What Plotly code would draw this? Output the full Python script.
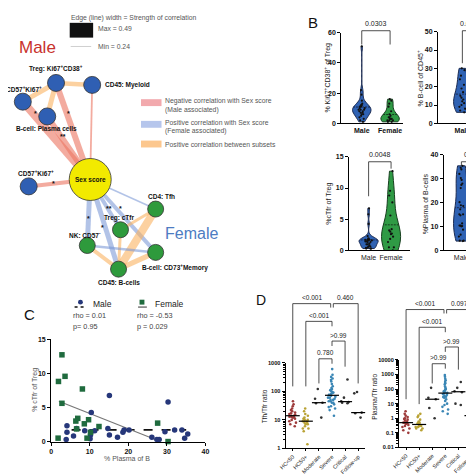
import numpy as np
import plotly.graph_objects as go

W = H = 474
FONT = "Liberation Sans, Arial, sans-serif"

# ---------------- data ----------------
# Panel B (top): Ki67+CD38+ of Treg, B-cell of CD45+
ki67_male = [51, 22, 19, 15, 13, 12, 12, 11, 11, 10, 10, 9, 9, 9, 8, 8, 7, 7, 6, 6, 5, 4, 3, 2, 1]
ki67_female = [16, 15, 13, 11, 8, 6, 5, 4, 4, 3, 3, 3, 2, 2, 2, 1, 1]
bcell_male = [30, 29, 26, 24, 21, 19, 17, 15, 14, 13, 12, 11, 10, 9, 8, 7, 6]
bcell_female = [35, 34, 33, 32, 30, 22, 21, 20, 20, 19, 19, 18, 17, 16, 15, 14]

# Panel C (and B bottom): % Plasma of B vs % cTfr of Treg
male_plasma = [4.1, 4.1, 3.9, 5.8, 6.6, 8.7, 10.4, 10.4, 10.2, 11.3, 15.1, 14.7, 15.1, 17.2,
               18.6, 18.9, 20.2, 26.1, 27.4, 28.0, 29.5, 30.3, 32.0, 33.9, 34.6, 35.4, 10.1]
male_ctfr = [2.3, 1.35, 0.3, 0.8, 1.9, 1.6, 4.25, 1.45, 0.97, 1.6, 6.75, 1.9, 0.97, 0.63,
             1.35, 1.7, 1.7, 0.63, 0.3, 0.3, 1.45, 5.8, 1.7, 1.7, 0.5, 1.1, 0.4]
female_plasma = [2.8, 1.9, 3.6, 2.8, 8.1, 1.8, 6.4, 6.9, 6.6, 8.6, 9.7, 9.3, 10.2, 12.4, 27.6, 30.3]
female_ctfr = [12.7, 8.8, 9.55, 5.6, 7.7, 0.5, 3.0, 3.4, 1.85, 2.6, 3.2, 0.5, 1.35, 2.2, 2.7, 0.0]
male_fit_x = [5.3, 35.0]
male_fit_y = [1.7, 1.7]
female_fit_x = [2.0, 27.0]
female_fit_y = [5.9, 0.3]

# Panel D
groups = ["HC&lt;50", "HC50+", "Moderate", "Severe", "Critical", "Follow-up"]
tfh_hc_lt50 = [45, 35, 30, 25, 22, 20, 18, 17, 16, 15, 14, 14, 13, 13, 12, 12, 11, 10, 9, 8, 7, 6]
tfh_hc_50p = [25, 20, 16, 14, 12, 11, 10, 10, 9, 9, 8, 8, 7, 7, 6, 5, 5, 4, 1.4]
tfh_moderate = [120, 55, 40, 38, 12]
tfh_severe = [600, 380, 320, 280, 250, 220, 180, 150, 130, 120, 110, 100, 95, 90, 85, 80, 75, 70,
              65, 60, 60, 55, 50, 50, 45, 45, 40, 40, 35, 30, 28, 25, 22, 14]
tfh_critical = [260, 60, 45, 42, 40, 38]
tfh_followup = [95, 85, 18, 17, 12]
pl_hc_lt50 = [3, 2, 1.5, 1.2, 1, 0.9, 0.8, 0.7, 0.6, 0.5, 0.5, 0.45, 0.4, 0.35, 0.3, 0.25, 0.2, 0.15, 0.1]
pl_hc_50p = [2, 1.5, 1.2, 0.8, 0.6, 0.5, 0.45, 0.4, 0.35, 0.3, 0.3, 0.25, 0.25, 0.2, 0.2, 0.15]
pl_moderate = [120, 25, 20, 5, 1]
pl_severe = [900, 700, 500, 400, 300, 250, 200, 150, 120, 100, 90, 80, 70, 60, 55, 50, 45, 40, 35,
             30, 28, 25, 20, 15, 10, 8, 6, 4, 3, 2]
pl_critical = [300, 120, 70, 60, 10, 8]
pl_followup = [15, 12, 1.5, 1.0, 0.4]
group_colors = ["#9e3b3b", "#b9a233", "#333333", "#3a86b5", "#333333", "#333333"]

# Panel A network
node_pos = {
    "Treg_k": (42, 72), "Myeloid": (79, 74), "CD57_top": (8, 91), "Plasma": (33, 106),
    "Sex": (77, 170), "CD57_bot": (14, 177), "Tfh": (144, 200), "cTfr": (108, 221),
    "NK": (74, 237), "Memory": (144, 244), "Bcells": (106, 261),
}
male_nodes = ["Treg_k", "Myeloid", "CD57_top", "Plasma", "CD57_bot"]
female_nodes = ["Tfh", "cTfr", "NK", "Memory", "Bcells"]
edges = [
    ("Sex", "CD57_top", "neg", 8), ("Sex", "Treg_k", "neg", 6), ("Sex", "Plasma", "neg", 6),
    ("Sex", "Myeloid", "neg", 1.8), ("Sex", "CD57_bot", "neg", 4),
    ("Treg_k", "CD57_top", "sub", 5), ("Treg_k", "Myeloid", "sub", 4.5), ("Treg_k", "Plasma", "sub", 5),
    ("Sex", "Tfh", "pos", 1.5), ("Sex", "cTfr", "pos", 4), ("Sex", "NK", "pos", 5),
    ("Sex", "Memory", "pos", 4), ("Sex", "Bcells", "pos", 5),
    ("Tfh", "Bcells", "sub", 8), ("Tfh", "cTfr", "sub", 3), ("cTfr", "Bcells", "sub", 3),
    ("NK", "Bcells", "sub", 4), ("Memory", "Bcells", "sub", 5), ("NK", "Memory", "pos", 2.5),
]
edge_colors = {"neg": "rgba(236,120,100,0.62)", "pos": "rgba(115,145,212,0.55)", "sub": "rgba(250,178,96,0.6)"}

fig = go.Figure()

# ---------------- network ----------------
for a, b, kind, w in edges:
    fig.add_trace(go.Scatter(x=[node_pos[a][0], node_pos[b][0]], y=[node_pos[a][1], node_pos[b][1]],
                             mode="lines", line=dict(color=edge_colors[kind], width=w),
                             xaxis="x", yaxis="y", hoverinfo="skip"))
for names, col, size in [(male_nodes, "#2f5fb3", 17), (female_nodes, "#2e9a3c", 16), (["Sex"], "#f2ea00", 42)]:
    fig.add_trace(go.Scatter(x=[node_pos[n][0] for n in names], y=[node_pos[n][1] for n in names],
                             mode="markers", cliponaxis=False,
                             marker=dict(color=col, size=size, line=dict(color="#333333", width=0.8)),
                             xaxis="x", yaxis="y", hoverinfo="skip"))

# ---------------- Panel B violins ----------------
def violin(xpos, vals, fill, line, axis, width):
    return go.Violin(x=[xpos] * len(vals), y=vals, fillcolor=fill, line=dict(color=line, width=1),
                     points="all", pointpos=0, jitter=0.4, spanmode="hard", width=width,
                     meanline_visible=True, opacity=1,
                     marker=dict(color="#111111", size=2.2), xaxis="x" + axis, yaxis="y" + axis,
                     hoverinfo="skip")

MB, FB, MLINE, FLINE = "#2f62b3", "#2f9a45", "#1b2a50", "#173f1f"
fig.add_trace(violin(0, ki67_male, MB, MLINE, "2", 0.65))
fig.add_trace(violin(1, ki67_female, FB, FLINE, "2", 0.65))
fig.add_trace(violin(0, bcell_male, MB, MLINE, "3", 0.62))
fig.add_trace(violin(1, bcell_female, FB, FLINE, "3", 0.62))
fig.add_trace(violin(0, male_ctfr, MB, MLINE, "4", 0.85))
fig.add_trace(violin(1, female_ctfr, FB, FLINE, "4", 0.85))
fig.add_trace(violin(0, male_plasma, MB, MLINE, "5", 0.7))
fig.add_trace(violin(1, female_plasma, FB, FLINE, "5", 0.7))

# ---------------- Panel C scatter ----------------
fig.add_trace(go.Scatter(x=male_fit_x, y=male_fit_y, mode="lines", line=dict(color="#111", width=1.8, dash="dash"),
                         xaxis="x6", yaxis="y6", hoverinfo="skip"))
fig.add_trace(go.Scatter(x=female_fit_x, y=female_fit_y, mode="lines", line=dict(color="#777", width=1.2),
                         xaxis="x6", yaxis="y6", hoverinfo="skip"))
fig.add_trace(go.Scatter(x=male_plasma, y=male_ctfr, mode="markers", cliponaxis=False,
                         marker=dict(color="#26377a", size=5.5, symbol="circle"), xaxis="x6", yaxis="y6"))
fig.add_trace(go.Scatter(x=female_plasma, y=female_ctfr, mode="markers", cliponaxis=False,
                         marker=dict(color="#1f6b3e", size=5.5, symbol="square"), xaxis="x6", yaxis="y6"))

# ---------------- Panel D ----------------
tfh_sets = [tfh_hc_lt50, tfh_hc_50p, tfh_moderate, tfh_severe, tfh_critical, tfh_followup]
pl_sets = [pl_hc_lt50, pl_hc_50p, pl_moderate, pl_severe, pl_critical, pl_followup]
for axis, sets in [("7", tfh_sets), ("8", pl_sets)]:
    for i, vals in enumerate(sets):
        fig.add_trace(go.Box(x=[i] * len(vals), y=vals, boxpoints="all", jitter=1, pointpos=0, width=0.7,
                             fillcolor="rgba(0,0,0,0)", line=dict(color="rgba(0,0,0,0)", width=0),
                             whiskerwidth=0, marker=dict(color=group_colors[i], size=2.6),
                             xaxis="x" + axis, yaxis="y" + axis, hoverinfo="skip"))
    fig.add_trace(go.Scatter(x=list(range(len(sets))), y=[float(np.median(v)) for v in sets], mode="markers",
                             cliponaxis=False,
                             marker=dict(symbol="line-ew", size=10, line=dict(color="black", width=1.2)),
                             xaxis="x" + axis, yaxis="y" + axis, hoverinfo="skip"))

# ---------------- layout ----------------
def dx(a, b):
    return [a / W, b / W]

def dy(top, bot):
    return [1 - bot / H, 1 - top / H]

AX = dict(showline=True, linecolor="black", linewidth=1, ticks="outside", ticklen=3, tickwidth=1,
          tickcolor="black", showgrid=False, zeroline=False, fixedrange=True)
BOLD = dict(size=7, family=FONT, color="#111", weight="bold")
REG = dict(size=7, family=FONT, color="#222")

layout = dict(
    width=W, height=H, margin=dict(l=0, r=0, t=0, b=0), paper_bgcolor="white", plot_bgcolor="rgba(0,0,0,0)",
    showlegend=False, font=dict(family=FONT, size=7, color="black"),
    xaxis=dict(domain=dx(0, 300), range=[0, 300], visible=False, fixedrange=True),
    yaxis=dict(domain=dy(0, 285), range=[285, 0], visible=False, fixedrange=True),
)

def cat_x(dom, rng, labels, font, anchor):
    return dict(AX, domain=dx(*dom), range=rng, tickvals=list(range(len(labels))), ticktext=labels,
                tickfont=font, ticks="", anchor=anchor)

layout["xaxis2"] = cat_x((334, 397), [-0.724, 1.448], ["Male", "Female"], BOLD, "y2")
layout["yaxis2"] = dict(AX, domain=dy(21, 113), range=[0, 60], tickvals=[0, 20, 40, 60], tickfont=BOLD, anchor="x2")
layout["xaxis3"] = cat_x((433, 474), [-0.862, 0.552], ["Male", "Female"], BOLD, "y3")
layout["yaxis3"] = dict(AX, domain=dy(20, 113), range=[0, 50], tickvals=[0, 10, 20, 30, 40, 50], tickfont=BOLD, anchor="x3")
layout["xaxis4"] = cat_x((342, 404), [-0.87, 1.826], ["Male", "Female"], REG, "y4")
layout["yaxis4"] = dict(AX, domain=dy(147, 242), range=[0, 15], tickvals=[0, 5, 10, 15], tickfont=BOLD, anchor="x4")
layout["xaxis5"] = cat_x((439, 474), [-0.783, 0.739], ["Male", "Female"], REG, "y5")
layout["yaxis5"] = dict(AX, domain=dy(145, 242), range=[0, 40], tickvals=[0, 10, 20, 30, 40], tickfont=BOLD, anchor="x5")
layout["xaxis6"] = dict(AX, domain=dx(37, 195), range=[0, 40], tickvals=[0, 10, 20, 30, 40], tickfont=BOLD, anchor="y6")
layout["yaxis6"] = dict(AX, domain=dy(332, 436), range=[0, 15], tickvals=[0, 5, 10, 15], tickfont=BOLD, anchor="x6")
for axis, xd, yd, rng, tv in [("7", (277, 358), (356, 443), [0, 3], [1, 10, 100, 1000]),
                               ("8", (393, 474), (353, 442), [-2, 4], [0.01, 0.1, 1, 10, 100, 1000, 10000])]:
    layout["xaxis" + axis] = dict(AX, domain=dx(*xd), range=[-0.55, 5.5], tickvals=list(range(6)), ticktext=groups,
                                  tickangle=-45, ticklen=2, tickfont=dict(size=5.6, family=FONT, color="#222"),
                                  anchor="y" + axis)
    layout["yaxis" + axis] = dict(AX, domain=dy(*yd), type="log", range=rng, tickvals=tv,
                                  ticktext=[("%g" % v) for v in tv],
                                  tickfont=dict(size=5.6, family=FONT, color="#111", weight="bold"),
                                  anchor="x" + axis,
                                  minor=dict(ticks="outside", ticklen=1.5, tickcolor="black", dtick="D1", showgrid=False))

# ---------------- annotations & shapes ----------------
ann = []
shapes = []

def T(x, y, text, size=7, color="#111", xanchor="center", angle=0, bold=False):
    ann.append(dict(x=x / W, y=1 - y / H, xref="paper", yref="paper", text=text,
                    showarrow=False, xanchor=xanchor, yanchor="middle", textangle=angle,
                    font=dict(size=size, color=color, family=FONT, weight="bold" if bold else "normal")))

# network legend
T(55, 6, "Edge (line) width = Strength of correlation", 6.8, "#555", "left")
shapes.append(dict(type="rect", xref="paper", yref="paper", x0=56 / W, x1=80 / W, y0=1 - 26 / H, y1=1 - 11 / H,
                   fillcolor="#111", line=dict(width=0)))
T(83, 17, "Max = 0.49", 6.8, "#555", "left")
shapes.append(dict(type="line", xref="paper", yref="paper", x0=57 / W, x1=78 / W, y0=1 - 35 / H, y1=1 - 35 / H,
                   line=dict(color="#cfcfcf", width=1)))
T(83, 35, "Min = 0.24", 6.8, "#555", "left")
T(2, 36, "Male", 17, "#c8312c", "left")
T(152, 225, "Female", 16, "#4d7cc2", "left")
for yy, col, l1, l2 in [(92, "#f2a9ad", "Negative correlation with Sex score", "(Male associated)"),
                        (114, "#b6c6ec", "Positive correlation with Sex score", "(Female associated)"),
                        (134, "#fcc78e", "Positive correlation between subsets", None)]:
    shapes.append(dict(type="rect", xref="paper", yref="paper", x0=129 / W, x1=150 / W,
                       y0=1 - (yy + 3.5) / H, y1=1 - (yy - 3.5) / H, fillcolor=col, line=dict(width=0)))
    T(152, yy - (2 if l2 else 0), l1, 6.8, "#555", "left")
    if l2:
        T(152, yy + 7, l2, 6.8, "#555", "left")
# node labels
for x, y, t, anc in [(42, 57, "Treg: Ki67<sup>+</sup>CD38<sup>+</sup>", "center"), (90, 74, "CD45: Myeloid", "left"),
                     (30, 78, "CD57<sup>+</sup>Ki67<sup>+</sup>", "right"), (66, 118, "B-cell: Plasma cells", "right"),
                     (1, 163, "CD57<sup>+</sup>Ki67<sup>+</sup>", "left"), (77, 170, "Sex score", "center"),
                     (150, 187, "CD4: Tfh", "center"), (106, 209, "Treg: cTfr", "center"),
                     (72, 226, "NK: CD57<sup>-</sup>", "center"), (164, 259, "B-cell: CD73<sup>+</sup>Memory", "center"),
                     (106, 275, "CD45: B-cells", "center")]:
    T(x, y, t, 6.5, "#111", anc, bold=True)
for x, y, t in [(21, 103, "*"), (55, 103, "*"), (49, 126, "**"), (39, 174, "*"),
                (75, 210, "*"), (96, 199, "**"), (108, 199, "*"), (90, 219, "*")]:
    T(x, y, t, 7, "#111", bold=True)

# panel letters
T(305, 11, "B", 15, "#111", "center")
T(15, 307, "C", 15, "#111", "center")
T(252, 292, "D", 14, "#111", "center")

# B titles
T(319, 67, "% Ki67<sup>+</sup>CD38<sup>+</sup> of Treg", 7, "#222", angle=-90)
T(415, 67, "% B-cell of CD45<sup>+</sup>", 7, "#222", angle=-90)
T(322, 195, "%cTfr of Treg", 7, "#222", angle=-90)
T(420, 195, "%Plasma of B-cells", 7, "#222", angle=-90)

def bracket(axis, dom_top, dom_bot, x0, x1, ytop, yl, yr, text, text_dy=6, text_x=None, size=6.5):
    def f(py):
        return (dom_bot - py) / (dom_bot - dom_top)
    shapes.append(dict(type="path", xref="x" + axis, yref="y" + axis + " domain",
                       path="M %g,%g L %g,%g L %g,%g L %g,%g" % (x0, f(yl), x0, f(ytop), x1, f(ytop), x1, f(yr)),
                       line=dict(color="#222", width=0.8)))
    ann.append(dict(x=(x0 + x1) / 2 if text_x is None else text_x, y=1 - (ytop - text_dy) / H,
                    xref="x" + axis, yref="paper", text=text,
                    showarrow=False, xanchor="center", yanchor="middle",
                    font=dict(size=size, color="#222", family=FONT)))

bracket("2", 21, 113, 0, 1, 19, 33, 33, "0.0303", 7, size=7)
bracket("3", 20, 113, 0, 1, 19, 52, 30, "0.0362", 7, text_x=0.3, size=7)
bracket("4", 147, 242, 0, 1, 152, 187, 159, "0.0048", 7, size=7)
bracket("5", 145, 242, 0, 1, 152, 156, 156, "0.0011", 7, text_x=0.6, size=7)
for args in [(0, 2.9, 296, 380, 300, "&lt;0.001"), (3.1, 5, 296, 300, 377, "0.460"),
             (1, 3, 314, 380, 319, "&lt;0.001"), (3, 4, 334, 339, 360, "&gt;0.99"), (2, 3, 352, 377, 357, "0.780")]:
    bracket("7", 356, 443, *args)
for args in [(0, 2.9, 302, 393, 306, "&lt;0.001"), (3.1, 5, 302, 306, 387, "0.097"),
             (1, 3, 320, 398, 325, "&lt;0.001"), (3, 4, 340, 345, 363, "&gt;0.99"), (2, 3, 357, 377, 362, "&gt;0.99")]:
    bracket("8", 353, 442, *args)

# D axis titles
T(255, 400, "Tfh/Tfr ratio", 6.5, "#222", angle=-90)
T(368, 390, "Plasma/Tfr ratio", 6.5, "#222", angle=-90)

# C legend & titles
shapes.append(dict(type="circle", xref="paper", yref="paper", x0=64.5 / W, x1=69.5 / W, y0=1 - 297 / H, y1=1 - 292 / H,
                   fillcolor="#26377a", line=dict(width=0)))
shapes.append(dict(type="line", xref="paper", yref="paper", x0=61 / W, x1=73 / W, y0=1 - 299.5 / H, y1=1 - 299.5 / H,
                   line=dict(color="#111", width=1.5, dash="dot")))
shapes.append(dict(type="rect", xref="paper", yref="paper", x0=127.5 / W, x1=132.5 / W, y0=1 - 297 / H, y1=1 - 292 / H,
                   fillcolor="#1f6b3e", line=dict(width=0)))
shapes.append(dict(type="line", xref="paper", yref="paper", x0=126 / W, x1=135 / W, y0=1 - 299.5 / H, y1=1 - 299.5 / H,
                   line=dict(color="#555", width=1.2)))
T(78, 296, "Male", 8.5, "#222", "left")
T(141, 296, "Female", 8.5, "#222", "left")
T(57, 308, "rho = 0.01", 7.3, "#444", "left")
T(57, 319, "p= 0.95", 7.3, "#444", "left")
T(123, 308, "rho = -0.53", 7.3, "#444", "left")
T(123, 319, "p = 0.029", 7.3, "#444", "left")
T(115, 453, "% Plasma of B", 7, "#555")
T(21, 384, "% cTfr of Treg", 7, "#555", angle=-90)

layout["annotations"] = ann
layout["shapes"] = shapes
fig.update_layout(**layout)
fig.write_html("out.html")
